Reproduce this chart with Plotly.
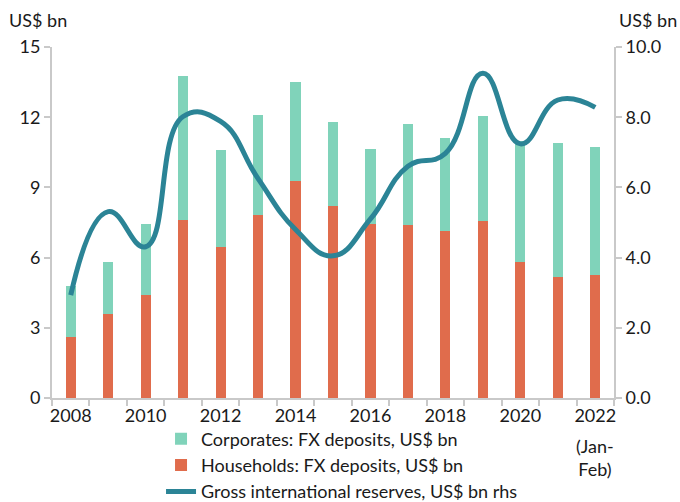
import plotly.graph_objects as go

years = [2008, 2009, 2010, 2011, 2012, 2013, 2014, 2015, 2016, 2017, 2018, 2019, 2020, 2021, 2022]
households = [2.6, 3.6, 4.4, 7.6, 6.45, 7.8, 9.27, 8.2, 7.45, 7.4, 7.12, 7.55, 5.83, 5.15, 5.27]
corporates = [2.18, 2.2, 3.04, 6.17, 4.13, 4.3, 4.22, 3.59, 3.19, 4.32, 3.99, 4.5, 5.17, 5.73, 5.46]
reserves = [2.93, 5.31, 4.31, 8.02, 7.88, 6.25, 4.8, 4.05, 5.1, 6.6, 6.97, 9.25, 7.24, 8.49, 8.28]

tick_years = [2008, 2010, 2012, 2014, 2016, 2018, 2020, 2022]
tick_text = ["2008", "2010", "2012", "2014", "2016", "2018", "2020", "2022"]
last_note = "(Jan-<br>Feb)"

FONT = "Lato"
GRID = "#C9C9C9"
TXT = "#1a1a1a"

fig = go.Figure()
fig.add_trace(go.Bar(x=years, y=households, name="Households: FX deposits, US$ bn",
                     marker=dict(color="#E06C4C", line=dict(width=0)), width=0.27,
                     legendrank=2))
fig.add_trace(go.Bar(x=years, y=corporates, name="Corporates: FX deposits, US$ bn",
                     marker=dict(color="#80D3BA", line=dict(width=0)), width=0.27,
                     legendrank=1))
fig.add_trace(go.Scatter(x=years, y=reserves, name="Gross international reserves, US$ bn rhs",
                         mode="lines", line=dict(color="#2B8496", width=5, shape="spline", smoothing=1.3),
                         yaxis="y2", legendrank=3))

fig.update_layout(
    width=680, height=502,
    margin=dict(l=52, r=66, t=47, b=104, autoexpand=False),
    paper_bgcolor="white", plot_bgcolor="white",
    barmode="stack",
    font=dict(family=FONT, size=18, color=TXT),
    showlegend=True,
    hovermode=False,
    legend=dict(x=0.194, xanchor="left", y=-0.064, yanchor="top", orientation="v",
                traceorder="normal", font=dict(size=18, family=FONT, color=TXT),
                bgcolor="rgba(0,0,0,0)", itemwidth=30, tracegroupgap=0),
    xaxis=dict(range=[2007.5, 2022.5], tickmode="array", tickvals=tick_years, ticktext=tick_text,
               showline=True, linecolor=GRID, linewidth=2, ticks="", showgrid=False, zeroline=False,
               automargin=False,
               tickfont=dict(size=18, family=FONT, color=TXT),
               minor=dict(tickmode="linear", tick0=2007.5, dtick=1, ticks="outside", ticklen=6,
                          tickcolor=GRID, tickwidth=2, showgrid=False)),
    yaxis=dict(range=[0, 15], tickmode="array", tickvals=[0, 3, 6, 9, 12, 15],
               showline=True, linecolor=GRID, linewidth=2, ticks="outside", ticklen=6,
               tickcolor=GRID, tickwidth=2, showgrid=False, zeroline=False, automargin=False,
               tickfont=dict(size=18, family=FONT, color=TXT)),
    yaxis2=dict(range=[0, 10], tickmode="array", tickvals=[0, 2, 4, 6, 8, 10],
                tickformat=".1f", overlaying="y", side="right",
                showline=True, linecolor=GRID, linewidth=2, ticks="outside", ticklen=6,
                tickcolor=GRID, tickwidth=2, showgrid=False, zeroline=False, automargin=False,
                tickfont=dict(size=18, family=FONT, color=TXT)),
    annotations=[
        dict(text="US$ bn", xref="paper", yref="paper", x=-0.08, y=1.04, xanchor="left",
             yanchor="bottom", showarrow=False, font=dict(size=18, family=FONT, color=TXT)),
        dict(text="US$ bn", xref="paper", yref="paper", x=1.006, y=1.04, xanchor="left",
             yanchor="bottom", showarrow=False, font=dict(size=18, family=FONT, color=TXT)),
        dict(text=last_note, xref="x", yref="paper", x=years[-1], y=-0.1, xanchor="center",
             yanchor="top", showarrow=False, font=dict(size=18, family=FONT, color=TXT)),
    ],
)

fig.write_html("out.html", config={"displayModeBar": False},
               post_script="document.body.style.margin='0px';")
